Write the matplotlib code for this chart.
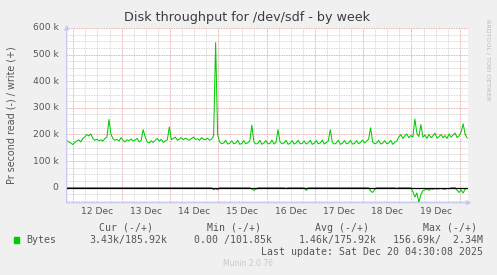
import numpy as np
import matplotlib
matplotlib.use('Agg')
import matplotlib.pyplot as plt
import matplotlib.patches as mpatches
import matplotlib.transforms as mtransforms
from matplotlib.ticker import MultipleLocator, FixedLocator

# ── data (hourly samples, values in k bytes/s) ──────────────────────────────
START_DAY = 11.8625          # Dec 11, ~20:40
END_DAY = 20.171             # Dec 20, ~04:07
write_k = [
    177, 172, 168, 162, 170, 175, 180, 172, 185, 190,
    200, 195, 202, 185, 178, 182, 176, 180, 175, 185,
    190, 256, 200, 185, 178, 182, 175, 188, 178, 172,
    180, 176, 183, 175, 179, 185, 172, 178, 218, 190,
    172, 168, 176, 170, 178, 185, 175, 182, 170, 176,
    180, 228, 180, 185, 190, 178, 183, 188, 180, 186,
    182, 178, 185, 190, 181, 184, 178, 188, 182, 180,
    186, 178, 183, 195, 545, 200, 172, 165, 168, 178,
    164, 167, 176, 165, 168, 178, 163, 166, 177, 165,
    169, 176, 235, 172, 164, 167, 178, 163, 168, 177,
    165, 166, 179, 164, 170, 218, 172, 165, 168, 178,
    163, 167, 177, 164, 168, 178, 165, 166, 176, 164,
    169, 178, 163, 167, 177, 165, 168, 179, 164, 170,
    176, 218, 170, 164, 168, 178, 163, 167, 177, 165,
    168, 178, 164, 166, 177, 165, 170, 179, 168, 175,
    182, 225, 172, 165, 168, 178, 164, 167, 177, 165,
    168, 178, 163, 170, 175, 190, 200, 185, 195, 202,
    188, 196, 190, 258, 205, 192, 237, 190, 198, 185,
    200, 188, 195, 205, 186, 192, 200, 188, 196, 185,
    202, 190, 198, 205, 188, 195, 210, 240, 200, 187,
]
read_k = [
    0, 0, 0, 0, 0, 0, 0, 0, 0, 0,
    0, 0, 0, 0, 0, 0, 0, 0, 0, 0,
    0, 0, 0, 0, 0, 0, 0, 0, 0, 0,
    0, 0, 0, 0, 0, 0, 0, 0, 0, 0,
    0, 0, 0, 0, 0, 0, 0, 0, 0, 0,
    0, 0, 0, 0, 0, 0, 0, 0, 0, 0,
    0, 0, 0, 0, 0, 0, 0, 0, 0, 0,
    0, 0, 0, 8, 3, 8, 0, 0, 0, 0,
    0, 0, 0, 0, 0, 0, 0, 0, 0, 0,
    0, 0, 5, 10, 6, 0, 0, 0, 0, 0,
    0, 0, 0, 0, 0, 0, 0, 0, 0, 3,
    0, 0, 0, 0, 0, 0, 0, 0, 0, 10,
    0, 0, 0, 0, 0, 0, 0, 0, 0, 0,
    0, 0, 0, 0, 0, 0, 0, 0, 0, 0,
    0, 0, 0, 0, 0, 0, 0, 0, 0, 0,
    0, 12, 18, 8, 0, 0, 0, 0, 0, 0,
    0, 0, 0, 0, 3, 0, 0, 0, 0, 0,
    0, 0, 15, 35, 20, 55, 25, 12, 8, 5,
    10, 4, 6, 3, 5, 4, 3, 5, 6, 3,
    4, 0, 0, 0, 10, 18, 8, 20, 5, 3,
]
day_labels = ['12 Dec', '13 Dec', '14 Dec', '15 Dec', '16 Dec', '17 Dec', '18 Dec', '19 Dec']
y_ticks = [0, 100000, 200000, 300000, 400000, 500000, 600000]
y_ticklabels = ['0', '100 k', '200 k', '300 k', '400 k', '500 k', '600 k']

W, H = 497, 275
GREEN = '#00CC00'
TXT = '#555555'

def fx(px):
    return px / W

def fy(py):
    return 1 - py / H

fig = plt.figure(figsize=(W / 100, H / 100), dpi=100)
fig.patch.set_facecolor('#F0F0F0')
ax = fig.add_axes([fx(66.7), fy(202.7), (468 - 66.7) / W, (202.7 - 28) / H])
ax.set_facecolor('white')

t = START_DAY + np.arange(len(write_k)) / 24.0
ax.plot(t, np.array(write_k) * 1000, color=GREEN, lw=0.75, zorder=3)
ax.plot(t, -np.array(read_k) * 1000, color=GREEN, lw=0.75, zorder=3)
ax.axhline(0, color='black', lw=0.9, zorder=4)

ax.set_xlim(START_DAY, END_DAY)
ax.set_ylim(-56400, 600000)

# grid
ax.xaxis.set_major_locator(FixedLocator(range(12, 21)))
ax.xaxis.set_minor_locator(MultipleLocator(0.25))
ax.yaxis.set_major_locator(FixedLocator(y_ticks))
ax.yaxis.set_minor_locator(MultipleLocator(25000))
ax.grid(which='minor', color='#CCCCCC', linestyle=(0, (1, 1)), lw=0.6, zorder=1)
ax.grid(which='major', color='#E09090', linestyle=(0, (1, 1)), lw=0.6, zorder=2)
ax.tick_params(which='both', length=0)
ax.set_xticklabels([])
ax.set_yticklabels([])
for s in ax.spines.values():
    s.set_visible(False)

# axis lines with arrows
ax.annotate('', xy=(0, 1.035), xytext=(0, -0.015), xycoords='axes fraction',
            arrowprops=dict(arrowstyle='-|>', color='#C8C8F0', lw=0.9, mutation_scale=7),
            annotation_clip=False)
ax.annotate('', xy=(1.016, 0), xytext=(-0.008, 0), xycoords='axes fraction',
            arrowprops=dict(arrowstyle='-|>', color='#C8C8F0', lw=0.9, mutation_scale=7),
            annotation_clip=False)

# tick labels
for v, lab in zip(y_ticks, y_ticklabels):
    ax.text(-0.02, v, lab, transform=ax.get_yaxis_transform(), ha='right', va='center',
            fontsize=6.6, color=TXT)
xfig = mtransforms.blended_transform_factory(ax.transData, fig.transFigure)
for i, lab in enumerate(day_labels):
    ax.text(12.5 + i, fy(212), lab, transform=xfig,
            ha='center', va='center', fontsize=6.6, color=TXT)

fig.text(fx(247.5), fy(18), 'Disk throughput for /dev/sdf - by week', ha='center', va='center',
         fontsize=9.2, color='#3C3C3C')
fig.text(fx(12), fy(115.5), 'Pr second read (-) / write (+)', rotation=90, ha='center',
         va='center', fontsize=6.9, color=TXT)
fig.text(fx(488), fy(60), 'RRDTOOL / TOBI OETIKER', rotation=270, ha='center', va='center',
         fontsize=4.6, color='#BBBBBB')

mono = dict(family='DejaVu Sans Mono', fontsize=7.1, color=TXT, va='center')
fig.text(fx(99), fy(228), 'Cur (-/+)', ha='left', **mono)
fig.text(fx(207), fy(228), 'Min (-/+)', ha='left', **mono)
fig.text(fx(315), fy(228), 'Avg (-/+)', ha='left', **mono)
fig.text(fx(423), fy(228), 'Max (-/+)', ha='left', **mono)
fig.patches.append(mpatches.Rectangle((fx(14), fy(243)), 5 / W, 6 / H,
                                      transform=fig.transFigure, color=GREEN))
fig.text(fx(26), fy(240), 'Bytes', ha='left', **mono)
fig.text(fx(89), fy(240), '3.43k/185.92k', ha='left', **mono)
fig.text(fx(194), fy(240), '0.00 /101.85k', ha='left', **mono)
fig.text(fx(299), fy(240), '1.46k/175.92k', ha='left', **mono)
fig.text(fx(393), fy(240), '156.69k/  2.34M', ha='left', **mono)
fig.text(fx(483), fy(252), 'Last update: Sat Dec 20 04:30:08 2025', ha='right', **mono)
fig.text(fx(248), fy(264), 'Munin 2.0.76', ha='center', va='center', fontsize=5.5,
         color='#C8C8C8')

fig.savefig('out.png', dpi=100, facecolor=fig.get_facecolor())
